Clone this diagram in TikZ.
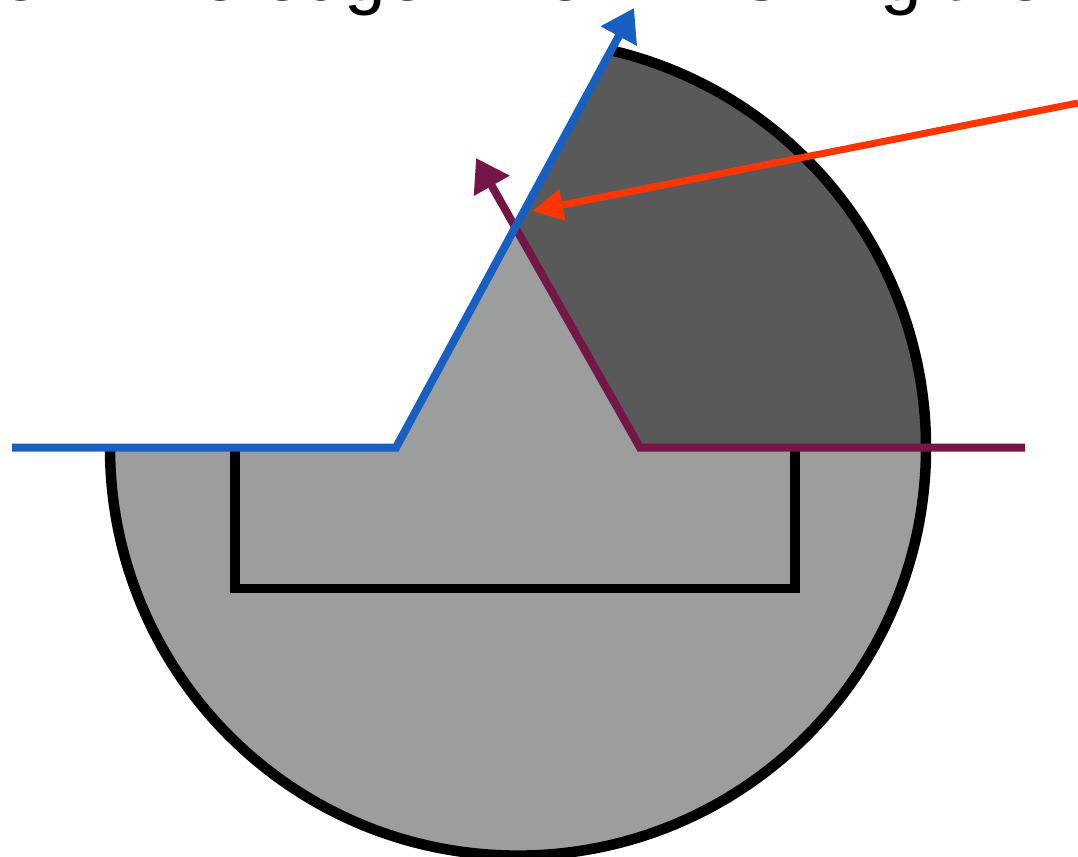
\documentclass[tikz,border=0pt]{standalone}
\usepackage{fontspec}
\setmainfont{Liberation Sans}
\usetikzlibrary{arrows.meta,positioning}
\definecolor{edgeblue}{HTML}{185FC2}
\definecolor{edgemaroon}{HTML}{741748}
\definecolor{rayred}{HTML}{FF3500}
\definecolor{bodygray}{HTML}{9C9E9D}
\definecolor{cutgray}{HTML}{595959}
\tikzset{
  edgeline/.style={line width=0.16cm,line join=miter},
  rayline/.style={line width=0.14cm},
  outline/.style={draw=black,line width=0.21cm},
  slotline/.style={draw=black,line width=0.19cm,line join=miter},
  bigtip/.style={-{Triangle[length=0.64cm,width=0.78cm]}},
  raytip/.style={-{Triangle[length=0.62cm,width=0.6cm]}}
}
\begin{document}
\begin{tikzpicture}[x=0.02cm,y=0.02cm]
\useasboundingbox (0,0) rectangle (1078,856);
\clip (0,0) rectangle (1078,856);
\coordinate (blueStart) at (12,408.4);
\coordinate (blueBend) at (396,408.4);
\coordinate (blueTip) at (634,848);
\coordinate (maroonStart) at (1025,408.4);
\coordinate (maroonBend) at (640,408.4);
\coordinate (maroonTip) at (476,698);
\coordinate (rayStart) at (1078,753);
\coordinate (rayTip) at (532,645);
\coordinate (apex) at (515,629);

\fill[bodygray] (110,408.4) arc[start angle=180,end angle=360,radius=408] -- (maroonBend) -- (apex) -- (blueBend) -- cycle;
\fill[cutgray] (maroonBend) -- (926,408.4) arc[start angle=0,end angle=77,radius=408] -- (apex) -- cycle;
\draw[outline] (110,408.4) arc[start angle=180,end angle=437,radius=408];
\draw[slotline] (235,408.4) -- (235,267.5) -- (795,267.5) -- (795,408.4);

\draw[edgeline,edgemaroon,bigtip] (maroonStart) -- (maroonBend) -- (maroonTip);
\draw[edgeline,edgeblue,bigtip] (blueStart) -- (blueBend) -- (blueTip);
\draw[rayline,rayred,raytip] (rayStart) -- (rayTip);

\node[anchor=base west,inner sep=0pt,font=\fontsize{42.5pt}{42.5pt}\selectfont] (caption) at (0,855) {of knife edge when finishing the};
\end{tikzpicture}
\end{document}
